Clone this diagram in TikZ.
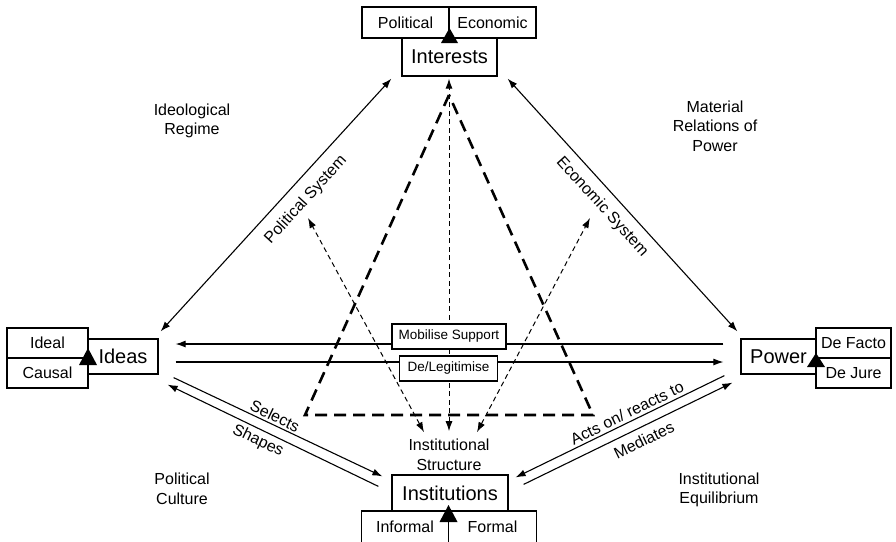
\documentclass[tikz,border=0pt]{standalone}
\usepackage{fontspec}
\setmainfont{Liberation Sans}
\usetikzlibrary{arrows.meta,calc}
\begin{document}
\begin{tikzpicture}[x=1pt,y=-1pt,
  >={Latex[length=10pt,width=7pt]},
  box/.style={draw, line width=1.2pt, inner sep=0pt, font=\fontsize{16}{18}\selectfont},
  bigbox/.style={draw, line width=1.2pt, inner sep=0pt, font=\fontsize{20}{22}\selectfont},
  lbl/.style={inner sep=0pt, align=center, font=\fontsize{16}{19.5}\selectfont},
  tagbox/.style={draw, fill=white, line width=1.1pt, inner sep=0pt, minimum height=25pt, font=\fontsize{13.5}{15}\selectfont},
  arr/.style={line width=1.1pt},
  thindash/.style={line width=1pt, dash pattern=on 5pt off 3.5pt},
  thickdash/.style={line width=2.6pt, dash pattern=on 12pt off 7pt, line join=miter},
  bigtri/.style={fill=black}
]
\useasboundingbox (0,0) rectangle (896,541);

% thick dashed triangle
\coordinate (apex) at (449,95);
\coordinate (tl) at (305,415);
\coordinate (tr) at (593,415);
\draw[thickdash] (apex) -- (tl) -- (tr) -- cycle;

% main nodes
\node[bigbox, minimum width=95pt, minimum height=38pt] (interests) at (449.5,57) {Interests};
\node[box, minimum width=87pt, minimum height=31pt] (political) at (405.5,22.5) {Political};
\node[box, minimum width=87pt, minimum height=31pt] (economic) at (492.5,22.5) {Economic};

\node[bigbox, minimum width=70pt, minimum height=35pt] (ideas) at (123,356.5) {Ideas};
\node[box, minimum width=81pt, minimum height=30pt] (ideal) at (47.5,343) {Ideal};
\node[box, minimum width=81pt, minimum height=30pt] (causal) at (47.5,373) {Causal};

\node[bigbox, minimum width=75pt, minimum height=35pt] (power) at (778.5,356.5) {Power};
\node[box, minimum width=75pt, minimum height=30pt] (defacto) at (853.5,343) {De Facto};
\node[box, minimum width=75pt, minimum height=30pt] (dejure) at (853.5,373) {De Jure};

\node[bigbox, minimum width=116pt, minimum height=36pt] (institutions) at (450,493) {Institutions};
\node[box, minimum width=87pt, minimum height=32pt] (informal) at (405,527) {Informal};
\node[box, minimum width=88pt, minimum height=32pt] (formal) at (492.5,527) {Formal};

% big triangles
\fill[bigtri] (449.5,28) -- (441,43) -- (458,43) -- cycle;
\fill[bigtri] (88,348) -- (79,365) -- (97,365) -- cycle;
\fill[bigtri] (816,353) -- (807,367) -- (825,367) -- cycle;
\fill[bigtri] (448.5,505) -- (439.5,522) -- (457.5,522) -- cycle;

% labels
\node[lbl] (instr) at (449,455) {Institutional\\Structure};
\node[lbl] (ir) at (192,121) {Ideological\\Regime};
\node[lbl] (mr) at (715,126) {Material\\Relations of\\Power};
\node[lbl] (pc) at (182,489) {Political\\Culture};
\node[lbl] (ie) at (719,490) {Institutional\\Equilibrium};

% thin dashed arrows
\coordinate (ps) at (308,218);
\coordinate (es) at (590,218);
\draw[thindash, <->] ([shift={(0,-8)}]instr.north) -- ([shift={(-0.5,2)}]interests.south);
\draw[thindash, <->] ([shift={(-25,-7)}]instr.north) -- (ps);
\draw[thindash, <->] ([shift={(28,-7)}]instr.north) -- (es);

% diagonal solid arrows
\draw[arr, <->] ([shift={(2,-7)}]ideas.north east) -- ([shift={(-10,2)}]interests.south west);
\draw[arr, <->] ([shift={(10,2)}]interests.south east) -- ([shift={(-3,-7)}]power.north west);
\node[lbl, rotate=47.6] (pslab) at (306,200) {Political System};
\node[lbl, rotate=-47.7] (eslab) at (602,207) {Economic System};

% horizontal arrows
\draw[arr, ->] ([shift={(-17,-12.5)}]power.west) -- ([shift={(17,-12.5)}]ideas.east);
\draw[arr, ->] ([shift={(17,5.5)}]ideas.east) -- ([shift={(-17,5.5)}]power.west);
\node[tagbox, minimum width=114pt] (mob) at (449,336.5) {Mobilise Support};
\node[tagbox, minimum width=98pt] (leg) at (448.5,368.5) {De/Legitimise};

% Ideas - Institutions
\draw[arr, ->] ([shift={(15,3)}]ideas.south east) -- ([shift={(-9,2)}]institutions.north west);
\draw[arr, ->] ([shift={(-13,12)}]institutions.north west) -- ([shift={(9,10)}]ideas.south east);
\node[lbl, rotate=-25.5] (sel) at (275,416) {Selects};
\node[lbl, rotate=-25.5] (shp) at (258,441) {Shapes};

% Power - Institutions
\draw[arr, ->] ([shift={(-16,1)}]power.south west) -- ([shift={(7,3)}]institutions.north east);
\draw[arr, ->] ([shift={(15,10)}]institutions.north east) -- ([shift={(-8,8)}]power.south west);
\node[lbl, rotate=26] (act) at (627,413) {Acts on/ reacts to};
\node[lbl, rotate=26] (med) at (644,440) {Mediates};
\end{tikzpicture}
\end{document}
